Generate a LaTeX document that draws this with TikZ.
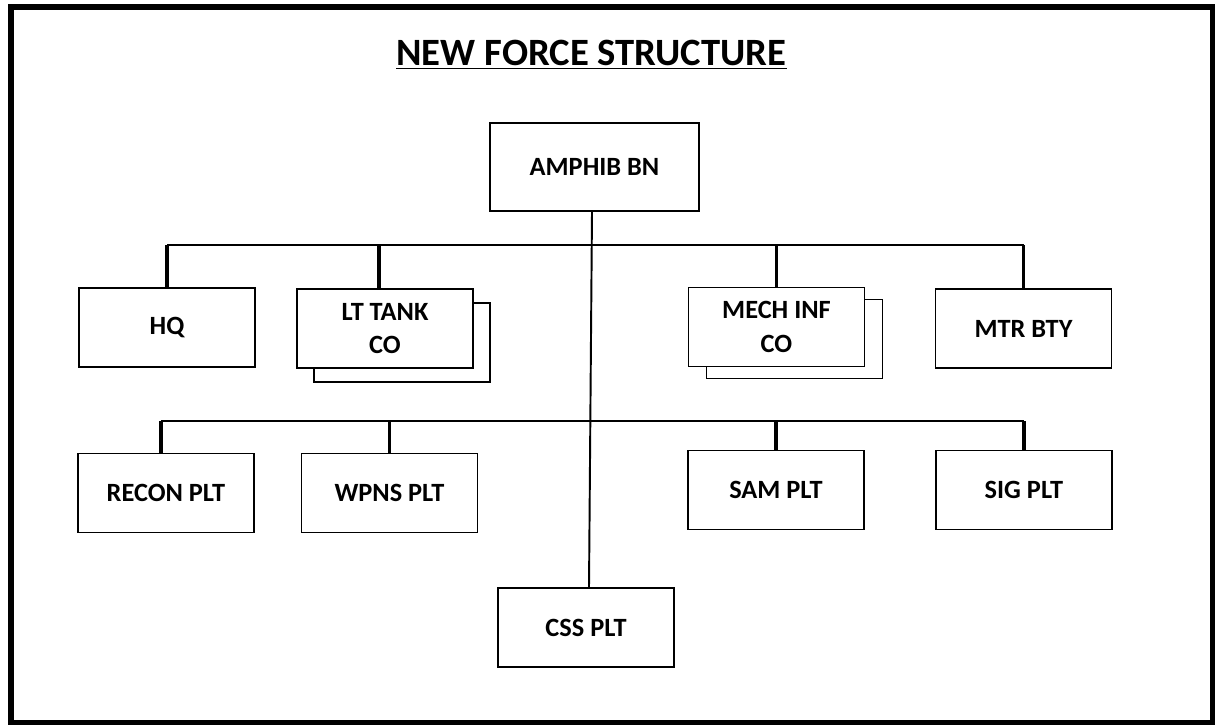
\documentclass[tikz,border=0pt]{standalone}
\usepackage{fontspec}
\setmainfont{Carlito}
\usetikzlibrary{positioning}

\begin{document}
\begin{tikzpicture}[unit/.style={draw, fill=white, line width=0.85pt, minimum width=3.52cm, minimum height=1.58cm, align=center, font=\bfseries\fontsize{15}{19}\selectfont},
    bus/.style={line width=1.7pt}, drop/.style={line width=2.2pt}]
    \useasboundingbox (0,0) rectangle (24.3,-14.5);
    \draw[line width=3.4pt] (0.22,-0.14) rectangle (24.26,-14.46);

    \node[font=\bfseries\fontsize{22}{24}\selectfont] (title) at (11.83,-1.1) {\underline{NEW FORCE STRUCTURE}};

    \node[unit, minimum width=4.18cm, minimum height=1.76cm] (amphib) at (11.89,-3.34) {AMPHIB BN};

    % companies
    \node[unit] (hq) at (3.34,-6.55) {HQ};
    \node[unit] (lttankbk) at (8.04,-6.85) {};\node[unit] (lttank) at (7.70,-6.57) {LT TANK\\CO};
    \node[unit] (mechinfbk) at (15.89,-6.78) {};\node[unit] (mechinf) at (15.53,-6.54) {MECH INF\\CO};
    \node[unit] (mtrbty) at (20.47,-6.57) {MTR BTY};

    % platoons
    \node[unit] (recon) at (3.32,-9.86) {RECON PLT};
    \node[unit] (wpns) at (7.79,-9.86) {WPNS PLT};
    \node[unit] (sam) at (15.52,-9.80) {SAM PLT};
    \node[unit] (sig) at (20.48,-9.80) {SIG PLT};
    \node[unit] (css) at (11.72,-12.55) {CSS PLT};

    \coordinate (bustop) at (11.84,-4.90);
    \coordinate (buslow) at (11.80,-8.42);

    \draw[line width=1.1pt] ([xshift=-0.05cm]amphib.south) -- ([xshift=0.06cm]css.north);

    \draw[bus] (hq.north |- bustop) -- (mtrbty.north |- bustop);
    \draw[drop] (hq.north) -- (hq.north |- bustop);
    \draw[drop] ([xshift=-0.12cm]lttank.north) -- ([xshift=-0.12cm]lttank.north |- bustop);
    \draw[drop] (mechinf.north) -- (mechinf.north |- bustop);
    \draw[drop] (mtrbty.north) -- (mtrbty.north |- bustop);

    \draw[bus] ([xshift=-0.1cm]recon.north |- buslow) -- (sig.north |- buslow);
    \draw[drop] ([xshift=-0.1cm]recon.north) -- ([xshift=-0.1cm]recon.north |- buslow);
    \draw[drop] (wpns.north) -- (wpns.north |- buslow);
    \draw[drop] (sam.north) -- (sam.north |- buslow);
    \draw[drop] (sig.north) -- (sig.north |- buslow);
\end{tikzpicture}
\end{document}
